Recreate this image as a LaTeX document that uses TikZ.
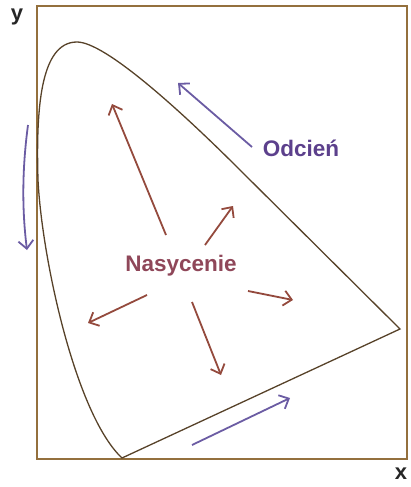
\documentclass[tikz,border=0pt]{standalone}
\usepackage{fontspec}
\usepackage{tikz}
\usetikzlibrary{arrows.meta}
\newfontfamily\labelfont{Liberation Sans}
\definecolor{ramka}{rgb}{0.58,0.44,0.24}
\definecolor{krzywa}{rgb}{0.34,0.26,0.16}
\definecolor{rdzawy}{rgb}{0.58,0.29,0.24}
\definecolor{wrzos}{rgb}{0.56,0.28,0.35}
\definecolor{fiolet}{rgb}{0.36,0.25,0.55}
\definecolor{lawenda}{rgb}{0.42,0.36,0.64}
\tikzset{
  etykieta/.style={
    font=\labelfont\bfseries\fontsize{22.5}{26}\selectfont,
    inner sep=0pt
  },
  os/.style={
    font=\labelfont\bfseries\fontsize{22}{24}\selectfont,
    text=black!85,
    inner sep=0pt
  },
  nasyc/.style={
    -{Straight Barb[length=8pt,width=15pt]},
    line width=1.8pt,
    rdzawy
  },
  odcien/.style={
    -{Straight Barb[length=8pt,width=15pt]},
    line width=1.8pt,
    lawenda
  }
}

\begin{document}
\begin{tikzpicture}[x=1pt,y=-1pt]
\useasboundingbox (0,0) rectangle (410,487);
% ramka wykresu
\draw[ramka,line width=1.4pt] (37,6) rectangle (407,459);
\node[os] (y) at (17,17) {y};
\node[os] (x) at (401,474) {x};
% obszar barw
\coordinate (B) at (122,458);
\coordinate (R) at (400,329);
\draw[krzywa,line width=1.3pt]
  (B) .. controls (76,415) and (42,260) .. (38,180)
      .. controls (36,110) and (40,42) .. (77,42)
      .. controls (105,42) and (180,110) .. (240,170)
      -- (R) -- cycle;
% nasycenie
\node[etykieta,text=wrzos] (nas) at (181,266) {Nasycenie};
\coordinate (n1a) at (166,235); \coordinate (n1b) at (112,104);
\coordinate (n2a) at (205,245); \coordinate (n2b) at (233,206);
\coordinate (n3a) at (248,291); \coordinate (n3b) at (293,300);
\coordinate (n4a) at (147,295); \coordinate (n4b) at (88,323);
\coordinate (n5a) at (192,302); \coordinate (n5b) at (221,375);
\foreach \k in {1,...,5}
  \draw[nasyc] (n\k a) -- (n\k b);
% odcien
\node[etykieta,text=fiolet] (odc) at (301,148) {Odcień};
\coordinate (o1a) at (252,147); \coordinate (o1b) at (178,83);
\coordinate (o2a) at (28,125);  \coordinate (o2b) at (27,250);
\coordinate (o3a) at (192,445); \coordinate (o3b) at (290,398);
\draw[odcien] (o1a) -- (o1b);
\draw[odcien] (o2a) .. controls (22,170) and (22,210) .. (o2b);
\draw[odcien] (o3a) -- (o3b);
\end{tikzpicture}
\end{document}
